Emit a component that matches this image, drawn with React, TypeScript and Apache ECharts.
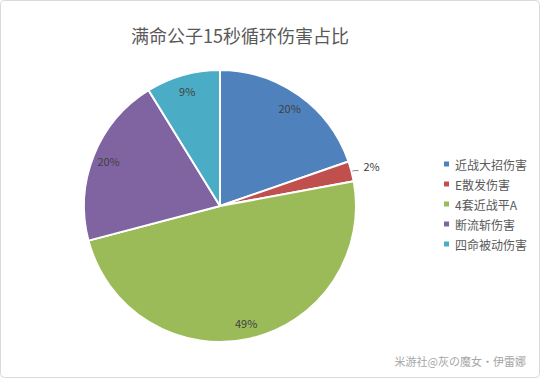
import React, { useEffect, useRef } from "react";
import * as echarts from "echarts";

const categories = ["近战大招伤害", "E散发伤害", "4套近战平A", "断流斩伤害", "四命被动伤害"];
const values = [19.7, 2.4, 48.8, 20.3, 8.8];
const colors = ["#4F81BD", "#C0504D", "#9BBB59", "#8064A2", "#4BACC6"];
const titleText = "满命公子15秒循环伤害占比";
const watermark = "米游社@灰の魔女·伊雷娜";

export default function App() {
  const ref = useRef<HTMLDivElement>(null);
  useEffect(() => {
    document.body.style.margin = "0";
    const chart = echarts.init(ref.current!, null, { renderer: "svg" });
    const data = categories.map((name, i) => ({ name, value: values[i] }));
    const font = "'Noto Sans CJK SC', 'Noto Sans', sans-serif";
    chart.setOption({
      animation: false,
      color: colors,
      backgroundColor: "#ffffff",
      title: {
        text: titleText,
        left: 235,
        top: 21,
        textAlign: "center",
        textStyle: { fontSize: 18, fontWeight: "normal", color: "#595959", fontFamily: font },
      },
      legend: {
        orient: "vertical",
        left: 437,
        top: 153,
        itemWidth: 7,
        itemHeight: 7,
        itemGap: 8,
        icon: "rect",
        textStyle: { fontSize: 12, color: "#595959", fontFamily: font },
        data: categories,
      },
      graphic: [
        {
          type: "rect",
          shape: { x: 0.5, y: 0.5, width: 539, height: 377, r: 4 },
          style: { fill: "none", stroke: "#d9d9d9", lineWidth: 1 },
        },
        {
          type: "text",
          right: 14,
          top: 355,
          style: { text: watermark, fontSize: 11, fill: "#a6a6a6", fontFamily: font },
        },
      ],
      series: [
        {
          type: "pie",
          center: [220, 206],
          radius: [0, 136],
          startAngle: 90,
          clockwise: true,
          data,
          label: { show: false },
          labelLine: { show: false },
          itemStyle: { borderColor: "#ffffff", borderWidth: 2 },
          emphasis: { disabled: true },
        },
        {
          type: "pie",
          center: [220, 206],
          radius: [98, 136],
          startAngle: 90,
          clockwise: true,
          silent: true,
          legendHoverLink: false,
          data: data.map((d, i) =>
            i === 1
              ? {
                  ...d,
                  label: { position: "outside", color: "#404040" },
                  labelLine: { show: true, length: 3, length2: 4, lineStyle: { color: "#808080", width: 1 } },
                }
              : d
          ),
          labelLayout: (p: any) => (p.dataIndex === 1 ? { dy: -5 } : {}),
          itemStyle: { color: "rgba(0,0,0,0)" },
          label: {
            show: true,
            position: "inside",
            formatter: "{d}%",
            fontSize: 11,
            color: "#404040",
            fontFamily: font,
          },
          percentPrecision: 0,
          emphasis: { disabled: true },
        },
      ],
    });
    return () => chart.dispose();
  }, []);
  return <div ref={ref} style={{ width: 540, height: 378 }} />;
}
